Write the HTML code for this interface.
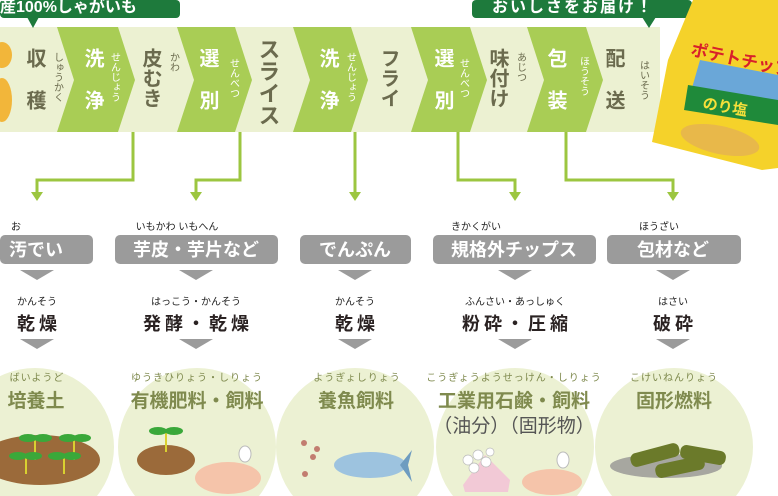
<!DOCTYPE html>
<html><head><meta charset="utf-8"><style>
html,body{margin:0;padding:0;background:#fff;width:778px;height:496px;overflow:hidden;}
svg{display:block;overflow:hidden;font-family:"Liberation Sans","Noto Sans CJK JP",sans-serif;}
.m{font-size:20px;font-weight:bold;fill:#6b6b4e;}
.mw{font-size:20px;font-weight:bold;fill:#fff;}
.r{font-size:10px;fill:#6b6b4e;}
.rw{font-size:10px;fill:#fff;}
.pill{fill:#9b9b9b;}
.pt{font-size:18px;fill:#fff;text-anchor:middle;font-weight:bold;}
.ru{font-size:10px;fill:#222;text-anchor:middle;}
.bk{font-size:18px;font-weight:bold;fill:#2a2222;text-anchor:middle;letter-spacing:4px;}
.ol{font-size:19px;font-weight:bold;fill:#7f8a4e;text-anchor:middle;}
.or{font-size:10px;fill:#7f8a4e;text-anchor:middle;letter-spacing:1px;}
.tri{fill:#9b9b9b;}
.ln{stroke:#9cc640;stroke-width:3;fill:none;}
</style></head><body>
<svg width="778" height="496" viewBox="0 0 778 496" xmlns="http://www.w3.org/2000/svg">
<defs><clipPath id="c"><rect x="0" y="0" width="778" height="496"/></clipPath></defs>
<g clip-path="url(#c)">
<rect x="0" y="27" width="660" height="105" fill="#ecf1d2"/>
<g fill="#a9cd55">
<polygon points="57,27 118,27 135,80 118,132 57,132 74,80"/>
<polygon points="177,27 235,27 252,80 235,132 177,132 194,80"/>
<polygon points="293,27 351,27 368,80 351,132 293,132 310,80"/>
<polygon points="411,27 470,27 487,80 470,132 411,132 428,80"/>
<polygon points="527,27 586,27 603,80 586,132 527,132 544,80"/>
</g>
<ellipse cx="2" cy="55" rx="10" ry="13" fill="#f2b63a"/>
<ellipse cx="2" cy="100" rx="10" ry="22" fill="#f2b63a"/>
<rect x="0" y="0" width="180" height="18" rx="4" fill="#1e7a3c"/>
<polygon points="27,17 39,17 33,28" fill="#1e7a3c"/>
<text x="0" y="12" font-size="16" font-weight="bold" fill="#fff">産100%しゃがいも</text>
<rect x="472" y="0" width="220" height="18" rx="4" fill="#1e7a3c"/>
<polygon points="642,17 656,17 649,28" fill="#1e7a3c"/>
<text x="492" y="12" font-size="16" font-weight="bold" fill="#fff" letter-spacing="2">おいしさをお届け！</text>
<g writing-mode="tb">
<text class="m" x="34" y="48">収</text><text class="m" x="34" y="90">穫</text>
<text class="r" x="57" y="52">しゅうかく</text>
<text class="mw" x="92" y="48">洗</text><text class="mw" x="92" y="90">浄</text>
<text class="rw" x="114" y="52">せんじょう</text>
<text class="m" x="150" y="48">皮むき</text>
<text class="r" x="173" y="52">かわ</text>
<text class="mw" x="207" y="48">選</text><text class="mw" x="207" y="90">別</text>
<text class="rw" x="233" y="58">せんべつ</text>
<text class="m" x="268" y="38" style="font-size:22px">スライス</text>
<text class="mw" x="327" y="48">洗</text><text class="mw" x="327" y="90">浄</text>
<text class="rw" x="350" y="52">せんじょう</text>
<text class="m" x="388" y="48">フライ</text>
<text class="mw" x="442" y="48">選</text><text class="mw" x="442" y="90">別</text>
<text class="rw" x="463" y="58">せんべつ</text>
<text class="m" x="497" y="48">味付け</text>
<text class="r" x="520" y="52">あじつ</text>
<text class="mw" x="555" y="48">包</text><text class="mw" x="555" y="90">装</text>
<text class="rw" x="583" y="56">ほうそう</text>
<text class="m" x="613" y="48">配</text><text class="m" x="613" y="90">送</text>
<text class="r" x="643" y="60">はいそう</text>
</g>
<polygon points="693,0 778,0 778,168 762,170 652,142 668,60" fill="#f5d22a"/>
<polygon points="700,60 778,75 778,110 690,95" fill="#6aa7d8"/>
<polygon points="688,85 778,100 778,125 684,110" fill="#1f8a3a"/>
<text x="690" y="55" font-size="17" font-weight="bold" fill="#d8202a" transform="rotate(12 690 55)">ポテトチップス</text>
<text x="702" y="108" font-size="15" font-weight="bold" fill="#f5e03a" transform="rotate(10 702 108)">のり塩</text>
<ellipse cx="720" cy="140" rx="40" ry="14" fill="#e8b84a" transform="rotate(12 720 140)"/>
<polyline class="ln" points="133,132 133,180 37,180 37,193"/>
<polyline class="ln" points="240,132 240,180 196,180 196,193"/>
<polyline class="ln" points="355,132 355,193"/>
<polyline class="ln" points="458,132 458,180 515,180 515,193"/>
<polyline class="ln" points="566,132 566,180 673,180 673,193"/>
<g fill="#9cc640">
<polygon points="31,192 43,192 37,201"/><polygon points="190,192 202,192 196,201"/>
<polygon points="349,192 361,192 355,201"/><polygon points="509,192 521,192 515,201"/>
<polygon points="667,192 679,192 673,201"/>
</g>
<g fill="#ecf1d3">
<circle cx="35" cy="447" r="79"/><circle cx="197" cy="447" r="79"/>
<circle cx="355" cy="447" r="79"/><circle cx="515" cy="447" r="79"/>
<circle cx="674" cy="447" r="79"/>
</g>
<rect class="pill" x="0" y="235" width="93" height="29" rx="5"/>
<rect class="pill" x="115" y="235" width="163" height="29" rx="5"/>
<rect class="pill" x="300" y="235" width="111" height="29" rx="5"/>
<rect class="pill" x="433" y="235" width="163" height="29" rx="5"/>
<rect class="pill" x="607" y="235" width="134" height="29" rx="5"/>
<text class="ru" x="16" y="230">お</text>
<text class="ru" x="177" y="230">いもかわ いもへん</text>
<text class="ru" x="476" y="230">きかくがい</text>
<text class="ru" x="659" y="230">ほうざい</text>
<text class="pt" x="36" y="256">汚でい</text>
<text class="pt" x="196" y="256">芋皮・芋片など</text>
<text class="pt" x="355" y="256">でんぷん</text>
<text class="pt" x="514" y="256">規格外チップス</text>
<text class="pt" x="673" y="256">包材など</text>
<g class="tri">
<polygon points="20,270 54,270 37,280"/><polygon points="179,270 213,270 196,280"/>
<polygon points="338,270 372,270 355,280"/><polygon points="498,270 532,270 515,280"/>
<polygon points="656,270 690,270 673,280"/>
<polygon points="20,339 54,339 37,349"/><polygon points="179,339 213,339 196,349"/>
<polygon points="338,339 372,339 355,349"/><polygon points="498,339 532,339 515,349"/>
<polygon points="656,339 690,339 673,349"/>
</g>
<text class="ru" x="37" y="305">かんそう</text>
<text class="ru" x="196" y="305">はっこう・かんそう</text>
<text class="ru" x="355" y="305">かんそう</text>
<text class="ru" x="515" y="305">ふんさい・あっしゅく</text>
<text class="ru" x="673" y="305">はさい</text>
<text class="bk" x="39" y="330">乾燥</text>
<text class="bk" x="198" y="330">発酵・乾燥</text>
<text class="bk" x="357" y="330">乾燥</text>
<text class="bk" x="517" y="330">粉砕・圧縮</text>
<text class="bk" x="675" y="330">破砕</text>
<text class="or" x="37" y="381">ばいようど</text>
<text class="or" x="197" y="381">ゆうきひりょう・しりょう</text>
<text class="or" x="357" y="381">ようぎょしりょう</text>
<text class="or" x="514" y="381">こうぎょうようせっけん・しりょう</text>
<text class="or" x="674" y="381">こけいねんりょう</text>
<text class="ol" x="36" y="407">培養土</text>
<text class="ol" x="197" y="407">有機肥料・飼料</text>
<text class="ol" x="356" y="407">養魚飼料</text>
<text class="ol" x="514" y="407">工業用石鹸・飼料</text>
<text class="ol" x="514" y="432" style="font-weight:normal;fill:#555">（油分）（固形物）</text>
<text class="ol" x="674" y="407">固形燃料</text>
<ellipse cx="40" cy="460" rx="60" ry="25" fill="#9b6a3a"/>
<g stroke="#d9d030" stroke-width="2"><line x1="35" y1="440" x2="35" y2="460"/><line x1="74" y1="440" x2="74" y2="460"/><line x1="26" y1="458" x2="26" y2="474"/><line x1="64" y1="458" x2="64" y2="474"/></g>
<g fill="#3aa83a"><ellipse cx="28" cy="438" rx="9" ry="4"/><ellipse cx="43" cy="438" rx="9" ry="4"/><ellipse cx="68" cy="438" rx="9" ry="4"/><ellipse cx="82" cy="438" rx="9" ry="4"/><ellipse cx="18" cy="456" rx="9" ry="4"/><ellipse cx="33" cy="456" rx="9" ry="4"/><ellipse cx="57" cy="456" rx="9" ry="4"/><ellipse cx="72" cy="456" rx="9" ry="4"/></g>
<ellipse cx="166" cy="460" rx="29" ry="15" fill="#9b6a3a"/>
<line x1="166" y1="432" x2="166" y2="452" stroke="#d9d030" stroke-width="2"/>
<ellipse cx="158" cy="431" rx="9" ry="4" fill="#3aa83a"/><ellipse cx="174" cy="431" rx="9" ry="4" fill="#3aa83a"/>
<ellipse cx="228" cy="478" rx="33" ry="16" fill="#f5c4aa"/>
<ellipse cx="245" cy="454" rx="6" ry="8" fill="#fff" stroke="#bbb"/>
<ellipse cx="370" cy="465" rx="36" ry="13" fill="#9dc3df"/>
<polygon points="400,465 412,450 408,465 412,482" fill="#6e9cc0"/>
<g fill="#c27d70"><circle cx="304" cy="443" r="3"/><circle cx="317" cy="449" r="3"/><circle cx="313" cy="457" r="3"/><circle cx="305" cy="474" r="3"/></g>
<polygon points="463,485 485,455 510,480 508,492 465,492" fill="#f2c9d6"/>
<g fill="#fff" stroke="#bbb" stroke-width="0.7"><circle cx="468" cy="460" r="5"/><circle cx="478" cy="455" r="5"/><circle cx="486" cy="462" r="5"/><circle cx="474" cy="468" r="5"/><circle cx="490" cy="452" r="4"/></g>
<ellipse cx="552" cy="482" rx="30" ry="13" fill="#f5c4aa"/>
<ellipse cx="563" cy="460" rx="6" ry="8" fill="#fff" stroke="#bbb"/>
<ellipse cx="666" cy="466" rx="56" ry="12" fill="#a7a7a0"/>
<g fill="#6b7a2a"><rect x="630" y="448" width="50" height="14" rx="6" transform="rotate(-15 655 455)"/><rect x="680" y="448" width="46" height="14" rx="6" transform="rotate(10 703 455)"/><rect x="655" y="460" width="50" height="14" rx="6" transform="rotate(-12 680 467)"/></g>
</g>
</svg>
</body></html>
